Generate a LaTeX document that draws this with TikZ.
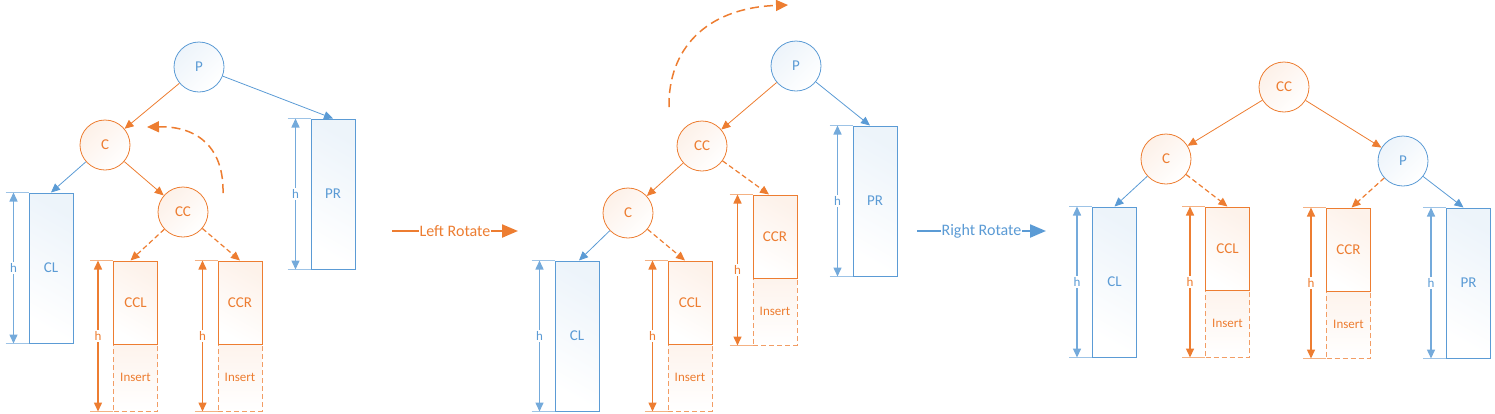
\documentclass[tikz,border=0pt]{standalone}
\usepackage{fontspec}
\setmainfont{Carlito}
\usetikzlibrary{arrows.meta}
\definecolor{orangeC}{RGB}{237,125,49}
\definecolor{blueC}{RGB}{91,155,213}
\definecolor{lblue}{RGB}{157,195,230}
\definecolor{lorange}{RGB}{244,177,131}
\tikzset{
  fs/.style={font=\fontsize{#1}{#1}\selectfont},
  arr/.style={-{Triangle[length=9pt,width=8pt]}},
  ocirc/.style={circle, draw=orangeC, line width=0.8pt, minimum size=50pt, inner sep=0pt, text=orangeC, fs=15,
    top color=orangeC!11, bottom color=white, shading angle=45},
  bcirc/.style={circle, draw=blueC, line width=0.8pt, minimum size=50pt, inner sep=0pt, text=blueC, fs=15,
    top color=blueC!11, bottom color=white, shading angle=45},
  bbox/.style={rectangle, draw=blueC, line width=1pt, minimum width=44pt, minimum height=150pt, inner sep=0pt,
    text=blueC, fs=15, top color=blueC!11, bottom color=white, shading angle=-30},
  obox/.style={rectangle, draw=orangeC, line width=1pt, minimum width=44pt, minimum height=83pt, inner sep=0pt,
    text=orangeC, fs=15, top color=orangeC!10, bottom color=white, shading angle=-30},
  ibox/.style={rectangle, draw=orangeC!75, line width=1pt, dash pattern=on 5pt off 3pt, minimum width=44pt,
    minimum height=67pt, inner sep=0pt, text=orangeC, fs=13, top color=orangeC!9, bottom color=white},
  oedge/.style={draw=orangeC, line width=0.8pt, arr},
  bedge/.style={draw=blueC, line width=0.8pt, arr},
  odash/.style={draw=orangeC, line width=1.2pt, dash pattern=on 5pt off 3pt, arr},
  bdim/.style={draw=blueC!85, line width=1.5pt, {Triangle[length=9pt,width=8pt]}-{Triangle[length=9pt,width=8pt]}},
  odim/.style={draw=orangeC, line width=1.5pt, {Triangle[length=9pt,width=8pt]}-{Triangle[length=9pt,width=8pt]}},
  bext/.style={draw=lblue, line width=1.5pt},
  oext/.style={draw=lorange, line width=1.5pt},
  hlab/.style={fill=white, inner sep=1.5pt, fs=13},
  curarr/.style={draw=orangeC, line width=1.5pt, dash pattern=on 9pt off 5pt, -{Triangle[length=12pt,width=11pt]}},
  rotlab/.style={fill=white, inner sep=0.5pt, fs=16},
  rotarr/.style={line width=2.2pt, -{Triangle[length=16pt,width=13pt]}},
}
\newcommand\BlueBox[4]{% name, cx, top, label
  \node[bbox] (#1) at (#2,#3+75) {#4};
  \draw[bext] ([xshift=-23pt]#1.north west) -- (#1.north west);
  \draw[bext] ([xshift=-23pt]#1.south west) -- (#1.south west);
  \draw[bdim] ([xshift=-15pt]#1.north west) -- node[hlab, text=blueC]{h} ([xshift=-15pt]#1.south west);
}
\newcommand\OrangeBox[4]{% name, cx, top, label
  \node[ibox] (#1i) at (#2,#3+83+33.5) {Insert};
  \node[obox] (#1) at (#2,#3+41.5) {#4};
  \draw[oext] ([xshift=-23pt]#1.north west) -- (#1.north west);
  \draw[oext] ([xshift=-23pt]#1i.south west) -- (#1i.south west);
  \draw[odim] ([xshift=-15pt]#1.north west) -- node[hlab, text=orangeC]{h} ([xshift=-15pt]#1i.south west);
}
\begin{document}
\begin{tikzpicture}[x=1pt, y=-1pt]
\useasboundingbox (0,0) rectangle (1495,413);
% ---------------- left tree ----------------
\node[bcirc] (P1) at (199,67) {P};
\node[ocirc] (C1) at (105,145) {C};
\node[ocirc] (CC1) at (183,212) {CC};
\BlueBox{CL1}{51}{193}{CL}
\BlueBox{PR1}{333}{119}{PR}
\OrangeBox{CCL1}{135.5}{261}{CCL}
\OrangeBox{CCR1}{240}{261}{CCR}
\draw[oedge] (P1) -- (C1);
\draw[bedge] (P1) -- (PR1.north);
\draw[bedge] (C1) -- (CL1.north);
\draw[oedge] (C1) -- (CC1);
\draw[odash] (CC1) -- ([xshift=-5pt]CCL1.north);
\draw[odash] (CC1) -- (CCR1.north);
\coordinate (cs1) at (223,193);
\coordinate (ce1) at (147,127);
\draw[curarr] (cs1) .. controls (224,150) and (200,126) .. (ce1);
% ---------------- left rotate ----------------
\coordinate (la) at (392,231);
\coordinate (lb) at (518,231);
\draw[rotarr, draw=orangeC] (la) -- node[rotlab, text=orangeC]{Left Rotate} (lb);
% ---------------- middle tree ----------------
\node[bcirc] (P2) at (796,66) {P};
\node[ocirc] (CC2) at (702,146) {CC};
\node[ocirc] (C2) at (628,213) {C};
\BlueBox{CL2}{577}{261}{CL}
\BlueBox{PR2}{875}{126}{PR}
\OrangeBox{CCL2}{690}{261}{CCL}
\OrangeBox{CCR2}{775}{195}{CCR}
\draw[oedge] (P2) -- (CC2);
\draw[bedge] (P2) -- ([xshift=-5pt]PR2.north);
\draw[oedge] (CC2) -- (C2);
\draw[odash] (CC2) -- ([xshift=-6pt]CCR2.north);
\draw[bedge] (C2) -- ([xshift=2pt]CL2.north);
\draw[odash] (C2) -- ([xshift=-5pt]CCL2.north);
\coordinate (cs2) at (669,107);
\coordinate (ce2) at (788,5);
\draw[curarr] (cs2) .. controls (668,50) and (705,8) .. (ce2);
% ---------------- right rotate ----------------
\coordinate (ra) at (917,231);
\coordinate (rb) at (1046,231);
\draw[rotarr, draw=blueC] (ra) -- node[rotlab, text=blueC]{Right Rotate} (rb);
% ---------------- right tree ----------------
\node[ocirc] (CC3) at (1284,87) {CC};
\node[ocirc] (C3) at (1166,159) {C};
\node[bcirc] (P3) at (1403,161) {P};
\BlueBox{CL3}{1114.5}{207}{CL}
\BlueBox{PR3}{1468.5}{208}{PR}
\OrangeBox{CCL3}{1227.5}{207}{CCL}
\OrangeBox{CCR3}{1348.5}{208}{CCR}
\draw[oedge] (CC3) -- (C3);
\draw[oedge] (CC3) -- (P3);
\draw[bedge] (C3) -- (CL3.north);
\draw[odash] (C3) -- (CCL3.north);
\draw[odash] (P3) -- ([xshift=3pt]CCR3.north);
\draw[bedge] (P3) -- ([xshift=-5pt]PR3.north);
\end{tikzpicture}
\end{document}
